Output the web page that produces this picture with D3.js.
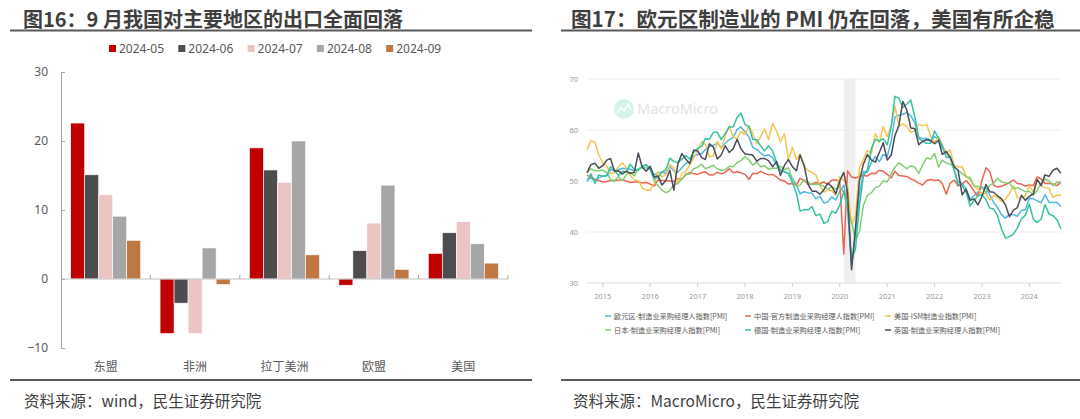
<!DOCTYPE html>
<html><head><meta charset="utf-8">
<script src="https://cdn.jsdelivr.net/npm/d3@7"></script>
<style>
body{margin:0;background:#fff;}
svg{display:block;font-family:"Noto Sans CJK SC","Noto Sans",sans-serif;}
</style></head><body>
<svg id="c" width="1080" height="419"></svg>
<script>
// ---------- Left chart data (图16) ----------
const categories = ["东盟","非洲","拉丁美洲","欧盟","美国"];
const barSeries = ["2024-05","2024-06","2024-07","2024-08","2024-09"];
const v202405 = [22.6, -7.9, 19.0, -0.9, 3.7];
const v202406 = [15.1, -3.5, 15.8, 4.1, 6.7];
const v202407 = [12.2, -7.9, 14.0, 8.1, 8.3];
const v202408 = [9.1, 4.5, 20.0, 13.6, 5.1];
const v202409 = [5.6, -0.8, 3.5, 1.4, 2.3];
const barTicks = [-10, 0, 10, 20, 30];

// ---------- Right chart data (图17), monthly from 2014-09 to 2024-09 ----------
const pmiStart = "2014-09";
const pmiNames = ["欧元区-制造业采购经理人指数[PMI]","中国-官方制造业采购经理人指数[PMI]","美国-ISM制造业指数[PMI]",
                  "日本-制造业采购经理人指数[PMI]","德国-制造业采购经理人指数[PMI]","英国-制造业采购经理人指数[PMI]"];
const pmiEurozone = [50.3,50.6,50.1,50.6,
 51.0,51.0,52.2,52.0,52.2,52.5,52.4,52.3,52.0,52.3,52.8,53.2,
 52.3,51.2,51.6,51.7,51.5,52.8,52.0,51.7,52.6,53.5,53.7,54.9,
 55.2,55.4,56.2,56.7,57.0,57.4,56.6,57.4,58.1,58.5,60.1,60.6,
 59.6,58.6,56.6,56.2,55.5,54.9,55.1,54.6,53.2,52.0,51.8,51.4,
 50.5,49.3,47.5,47.9,47.7,47.6,46.5,47.0,45.7,45.9,46.9,46.3,
 47.9,49.2,44.5,33.4,39.4,47.4,51.8,51.7,53.7,54.8,53.8,55.2,
 54.8,57.9,62.5,62.9,63.1,63.4,62.8,61.4,58.6,58.3,58.4,58.0,
 58.7,58.2,56.5,55.5,54.6,52.1,49.8,49.6,48.4,46.4,47.1,47.8,
 48.8,48.5,47.3,45.8,44.8,43.4,42.7,43.5,43.4,43.1,44.2,44.4,
 46.6,46.5,46.1,45.7,47.3,45.8,45.8,45.8,45.0];
const pmiChina = [51.1,50.8,50.3,50.1,
 49.8,49.9,50.1,50.1,50.2,50.2,50.0,49.7,49.8,49.8,49.6,49.7,
 49.4,49.0,50.2,50.1,50.1,50.0,49.9,50.4,50.4,51.2,51.7,51.4,
 51.3,51.6,51.8,51.2,51.2,51.7,51.4,51.7,52.4,51.6,51.8,51.6,
 51.3,50.3,51.5,51.4,51.9,51.5,51.2,51.3,50.8,50.2,50.0,49.4,
 49.5,49.2,50.5,50.1,49.4,49.4,49.7,49.5,49.8,49.3,50.2,50.2,
 50.0,35.7,52.0,50.8,50.6,50.9,51.1,51.0,51.5,51.4,52.1,51.9,
 51.3,50.6,51.9,51.1,51.0,50.9,50.4,50.1,49.6,49.2,50.1,50.3,
 50.1,50.2,49.5,47.4,49.6,50.2,49.0,49.4,50.1,49.2,48.0,47.0,
 50.1,52.6,51.9,49.2,48.8,49.0,49.3,49.7,50.2,49.5,49.4,49.0,
 49.2,49.1,50.8,50.4,49.5,49.5,49.4,49.1,49.8];
const pmiUS = [56.1,57.9,57.6,55.1,
 53.5,52.9,51.5,51.5,52.8,53.5,52.7,51.1,50.2,50.1,48.6,48.2,
 48.2,49.5,51.8,50.8,51.3,53.2,52.6,49.4,51.5,51.9,53.2,54.5,
 56.0,57.7,57.2,54.8,54.9,57.8,56.3,58.8,60.8,58.7,58.2,59.7,
 59.1,60.8,59.3,57.3,58.7,60.2,58.1,61.3,59.8,57.7,59.3,54.1,
 56.6,54.2,55.3,52.8,52.1,51.7,51.2,49.1,47.8,48.3,48.1,47.2,
 50.9,50.1,49.1,41.5,43.1,52.6,54.2,56.0,55.4,59.3,57.5,60.7,
 58.7,60.8,64.7,60.7,61.2,60.6,59.5,59.9,61.1,60.8,61.1,58.8,
 57.6,58.6,57.1,55.4,56.1,53.0,52.8,52.8,50.9,50.2,49.0,48.4,
 47.4,47.7,46.3,47.1,46.9,46.0,46.4,47.6,49.0,46.7,46.7,47.1,
 49.1,47.8,50.3,49.2,48.7,48.5,46.8,47.2,47.2];
const pmiJapan = [51.7,52.4,52.0,52.0,
 52.2,51.6,50.3,49.9,50.9,50.1,51.2,51.7,51.0,52.4,52.6,52.6,
 52.3,50.1,49.1,48.2,47.7,48.1,49.3,49.5,50.4,51.4,51.3,52.4,
 52.7,53.3,52.4,52.7,53.1,52.4,52.1,52.2,52.9,52.8,53.6,54.0,
 54.8,54.1,53.1,53.8,52.8,53.0,52.3,52.5,52.5,52.9,52.2,52.6,
 50.3,48.9,49.2,50.2,49.8,49.3,49.4,49.3,48.9,48.4,48.9,48.4,
 48.8,47.8,44.8,41.9,38.4,40.1,45.2,47.2,47.7,48.7,49.0,50.0,
 49.8,51.4,52.7,53.6,53.0,52.4,53.0,52.7,51.5,53.2,54.5,54.3,
 55.4,52.7,54.1,53.5,53.3,52.7,52.1,51.5,50.8,50.7,49.0,48.9,
 48.9,47.7,49.2,49.5,50.6,49.8,49.6,49.6,48.5,48.7,48.3,47.9,
 48.0,47.2,48.2,49.6,50.4,50.0,49.1,49.8,49.7];
const pmiGermany = [49.9,51.4,49.5,51.2,
 50.9,51.1,52.8,52.1,51.1,51.9,51.8,53.3,52.3,52.1,52.9,53.2,
 52.3,50.5,50.7,51.8,52.1,54.5,53.8,53.6,54.3,55.0,54.3,55.6,
 56.4,56.8,58.3,58.2,59.5,59.6,58.1,59.3,60.6,60.6,62.5,63.3,
 61.1,60.6,58.2,58.1,56.9,55.9,56.9,55.9,53.7,52.2,51.8,51.5,
 49.7,47.6,44.1,44.4,44.3,45.0,43.2,43.5,41.7,42.1,44.1,43.7,
 45.3,48.0,45.4,34.5,36.6,45.2,51.0,52.2,56.4,58.2,57.8,58.3,
 57.1,60.7,66.6,66.2,64.4,65.1,65.9,62.6,58.4,57.8,57.4,57.4,
 59.8,58.4,56.9,54.6,54.8,52.0,49.3,49.1,47.8,45.1,46.2,47.1,
 47.3,46.3,44.7,44.5,43.2,40.6,38.8,39.1,39.6,40.8,42.6,43.3,
 45.5,42.5,41.9,42.5,45.4,43.5,43.2,42.4,40.6];
const pmiUK = [51.6,53.2,53.5,52.5,
 53.0,54.1,54.4,51.9,52.0,51.4,51.9,51.5,51.7,55.5,52.7,51.9,
 52.9,50.8,51.0,49.2,50.1,52.1,48.2,53.3,55.4,54.3,53.4,56.1,
 55.9,54.6,54.2,57.3,56.7,54.3,55.1,56.9,55.6,56.3,58.2,56.3,
 55.3,55.2,55.1,53.9,54.4,54.4,54.0,52.8,53.8,51.1,53.1,54.2,
 52.8,52.0,55.1,53.1,49.4,48.0,48.0,47.4,48.3,49.6,48.9,47.5,
 50.0,51.7,47.8,32.6,40.7,50.1,53.3,55.2,54.1,53.7,55.6,57.5,
 54.1,55.1,58.9,60.9,65.6,63.9,60.4,60.3,57.1,57.8,58.1,57.9,
 57.3,58.0,55.2,55.8,54.6,52.8,52.1,47.3,48.4,46.2,46.5,45.3,
 47.0,49.3,47.9,47.8,47.1,46.5,45.3,43.0,44.3,44.8,47.2,46.2,
 47.0,47.5,50.3,49.1,51.2,50.9,52.1,52.5,51.5];
const pmiYears = ["2015","2016","2017","2018","2019","2020","2021","2022","2023","2024"];
const pmiTicks = [30, 40, 50, 60, 70];
const recession = ["2020-02-01", "2020-04-30"];

// ---------- Styles ----------
const barColors = ["#c00000", "#4d4d4f", "#ebc4c4", "#a6a6a6", "#bf7844"];
const lineColors = ["#52b6e4", "#ec6552", "#f5c550", "#82cf72", "#35c3a2", "#4b4c5a"];

const svg = d3.select("#c");

// ---------- Headers / footers ----------
function panelFrame(x0, x1, titleX, titleSize, title, sourceX, source) {
  svg.append("text").attr("x", titleX).attr("y", 27).attr("font-size", titleSize).attr("font-weight", 700)
    .attr("fill", "#3f3f3f").text(title);
  svg.append("line").attr("x1", x0).attr("x2", x1).attr("y1", 30.5).attr("y2", 30.5)
    .attr("stroke", "#595959").attr("stroke-width", 2);
  svg.append("line").attr("x1", x0).attr("x2", x1).attr("y1", 380).attr("y2", 380)
    .attr("stroke", "#595959").attr("stroke-width", 2);
  svg.append("text").attr("x", sourceX).attr("y", 407).attr("font-size", 15.5)
    .attr("fill", "#404040").text(source);
}
panelFrame(10, 532, 23, 20, "图16：9 月我国对主要地区的出口全面回落", 24, "资料来源：wind，民生证券研究院");
panelFrame(561, 1080, 571, 20.6, "图17：欧元区制造业的 PMI 仍在回落，美国有所企稳", 573, "资料来源：MacroMicro，民生证券研究院");

// ---------- Left bar chart ----------
(function () {
  const seriesVals = [v202405, v202406, v202407, v202408, v202409];
  const x0 = d3.scaleBand().domain(categories).range([61, 508]).padding(0);
  const x1 = d3.scaleBand().domain(barSeries).range([0, x0.bandwidth()]).paddingInner(0).paddingOuter(0.69);
  const y = d3.scaleLinear().domain([-10, 30]).range([348, 72]);
  const g = svg.append("g");

  const ax = g.append("g").attr("transform", "translate(61,0)")
    .call(d3.axisLeft(y).tickValues(barTicks).tickSizeInner(-4).tickSizeOuter(0).tickPadding(13).tickFormat(d3.format("d")));
  ax.select(".domain").attr("stroke", "#a6a6a6");
  ax.selectAll(".tick line").attr("stroke", "#a6a6a6");
  ax.selectAll("text").attr("font-size", 12).attr("fill", "#595959").attr("font-family", "'Noto Sans',sans-serif");

  categories.forEach((c, i) => {
    barSeries.forEach((s, j) => {
      const v = seriesVals[j][i];
      g.append("rect")
        .attr("x", x0(c) + x1(s)).attr("width", x1.bandwidth())
        .attr("y", y(Math.max(0, v))).attr("height", Math.abs(y(v) - y(0)))
        .attr("fill", barColors[j]).attr("stroke", "#ffffff").attr("stroke-width", 0.6);
    });
  });

  g.append("line").attr("x1", 61).attr("x2", 508).attr("y1", y(0)).attr("y2", y(0))
    .attr("stroke", "#bfbfbf").attr("stroke-width", 1.2);
  categories.forEach(c => {
    const xb = x0(c) + x0.bandwidth();
    g.append("line").attr("x1", xb).attr("x2", xb).attr("y1", y(0)).attr("y2", y(0) - 4)
      .attr("stroke", "#a6a6a6");
  });

  categories.forEach(c => {
    g.append("text").attr("x", x0(c) + x0.bandwidth() / 2).attr("y", 371)
      .attr("text-anchor", "middle").attr("font-size", 12).attr("fill", "#595959").text(c);
  });

  const lg = svg.append("g");
  barSeries.forEach((s, j) => {
    const lx = 109 + j * 69.3;
    lg.append("rect").attr("x", lx).attr("y", 45).attr("width", 7).attr("height", 7).attr("fill", barColors[j]);
    lg.append("text").attr("x", lx + 10).attr("y", 53).attr("font-size", 12).attr("fill", "#595959")
      .attr("font-family", "'Noto Sans',sans-serif").text(s);
  });
})();

// ---------- Right line chart ----------
(function () {
  const series = [pmiEurozone, pmiChina, pmiUS, pmiJapan, pmiGermany, pmiUK];
  const parseM = d3.timeParse("%Y-%m");
  const start = parseM(pmiStart);
  const dates = d3.range(pmiEurozone.length).map(i => d3.timeMonth.offset(start, i));
  const x = d3.scaleTime().domain([dates[0], dates[dates.length - 1]]).range([587, 1061]);
  const y = d3.scaleLinear().domain([30, 70]).range([283, 79]);
  const g = svg.append("g");

  g.append("rect").attr("x", x(new Date(recession[0]))).attr("width", x(new Date(recession[1])) - x(new Date(recession[0])))
    .attr("y", y(70)).attr("height", y(30) - y(70)).attr("fill", "#efefef");

  pmiTicks.forEach(t => {
    g.append("line").attr("x1", 587).attr("x2", 1061).attr("y1", y(t)).attr("y2", y(t))
      .attr("stroke", t === 30 ? "#dcdcdc" : "#ededed").attr("stroke-width", 1);
    g.append("text").attr("x", 578).attr("y", y(t) + 3).attr("text-anchor", "end")
      .attr("font-size", 7.5).attr("fill", "#9a9a9a").attr("font-family", "'Noto Sans',sans-serif").text(t);
  });
  pmiYears.forEach(yr => {
    const xx = x(new Date(+yr, 0, 1));
    g.append("line").attr("x1", xx).attr("x2", xx).attr("y1", 283).attr("y2", 287).attr("stroke", "#cfcfcf");
    g.append("text").attr("x", xx).attr("y", 299).attr("text-anchor", "middle")
      .attr("font-size", 7.5).attr("fill", "#9a9a9a").attr("font-family", "'Noto Sans',sans-serif").text(yr);
  });

  const wm = g.append("g").attr("opacity", 0.6);
  wm.append("circle").attr("cx", 624).attr("cy", 109).attr("r", 10).attr("fill", "#b8eedd");
  wm.append("path").attr("d", "M617,113 L621,107 L624,111 L628,104 L631,110")
    .attr("fill", "none").attr("stroke", "#fff").attr("stroke-width", 1.5);
  wm.append("text").attr("x", 637).attr("y", 114).attr("font-size", 14.5)
    .attr("font-family", "'Noto Sans',sans-serif").attr("fill", "#cfcfcf").text("MacroMicro");

  const line = d3.line().x((d, i) => x(dates[i])).y(d => y(d));
  series.forEach((s, k) => {
    g.append("path").datum(s).attr("d", line).attr("fill", "none")
      .attr("stroke", lineColors[k]).attr("stroke-width", 1.5).attr("stroke-linejoin", "round");
  });

  const colX = [605, 745, 885];
  const rowY = [316, 330];
  pmiNames.forEach((n, k) => {
    const lx = colX[k % 3], ly = rowY[Math.floor(k / 3)];
    g.append("line").attr("x1", lx).attr("x2", lx + 6).attr("y1", ly).attr("y2", ly)
      .attr("stroke", lineColors[k]).attr("stroke-width", 1.5);
    g.append("text").attr("x", lx + 9).attr("y", ly + 2.5).attr("font-size", 7.2).attr("fill", "#555").text(n);
  });
})();
</script>
</body></html>
